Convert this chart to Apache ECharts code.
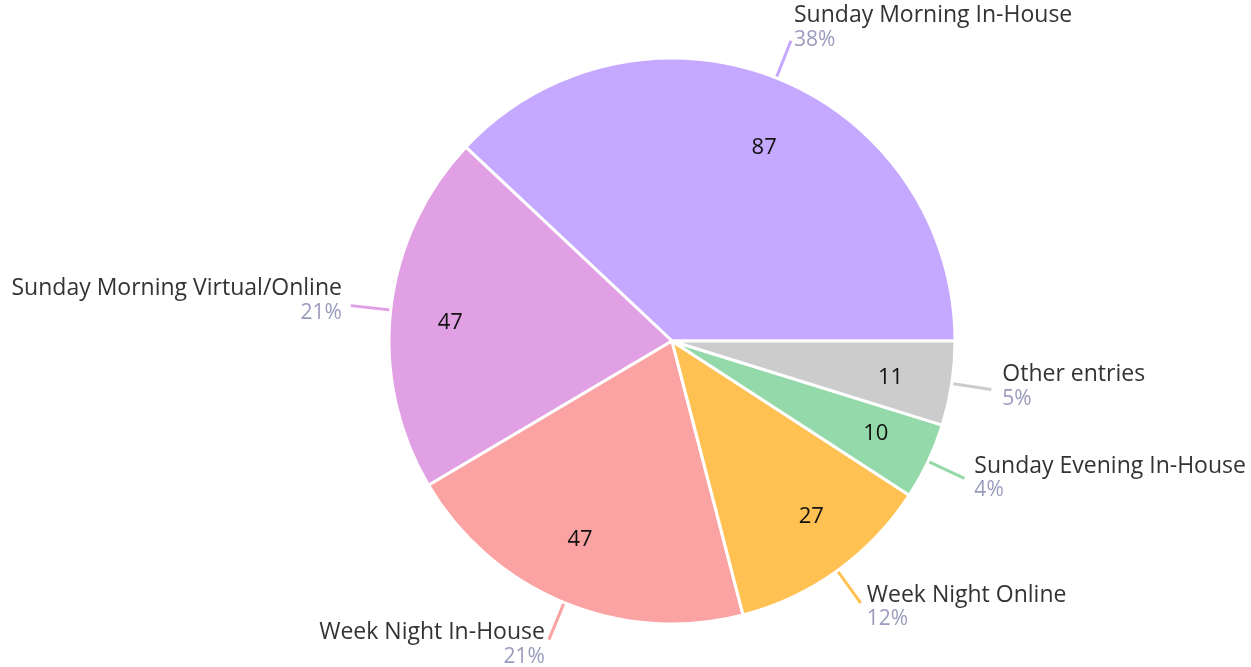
<!DOCTYPE html>
<html>
<head>
<meta charset="utf-8">
<script src="https://cdn.jsdelivr.net/npm/echarts@6/dist/echarts.min.js"></script>
<style>
  html, body { margin: 0; padding: 0; background: #fff; }
  #chart { width: 1251px; height: 667px; }
</style>
</head>
<body>
<div id="chart"></div>
<script>
// data
const categories = ['Sunday Morning In-House', 'Sunday Morning Virtual/Online', 'Week Night In-House',
                    'Week Night Online', 'Sunday Evening In-House', 'Other entries'];
const counts = [87, 47, 47, 27, 10, 11];
const colors = ['#c5a8ff', '#e2a0e4', '#fba3a3', '#ffc252', '#93d9a9', '#cccccc'];

const total = counts.reduce((a, b) => a + b, 0);
// small per-label nudges so the text sits where the reference has it
const labelPad = [[0, 0, 26, 0], [0, 0, 10, 0], [10, 0, 0, 0], [8, 0, 0, 0], 0, [0, 0, 6, 0]];
const labelGap = [3, 9, 4, 6, 10, 11];
const valueShift = [[10, 14], [0, 6], [-7, -7], [9, -5], [2, -2], [-2, 3]];

const pieData = categories.map((name, i) => ({
    name: name,
    value: counts[i],
    itemStyle: { color: colors[i] },
    label: { padding: labelPad[i], distanceToLabelLine: labelGap[i] },
    labelLine: { lineStyle: { color: colors[i] } }
}));

const chart = echarts.init(document.getElementById('chart'));
chart.setOption({
    backgroundColor: '#fff',
    animation: false,
    series: [{
        name: 'entries',
        type: 'pie',
        center: [672, 341],
        radius: [0, 283],
        startAngle: 0,
        clockwise: false,
        avoidLabelOverlap: false,
        itemStyle: {
            borderColor: '#fff',
            borderWidth: 3
        },
        label: {
            show: true,
            position: 'outside',
            overflow: 'none',
            fontFamily: 'Open Sans',
            formatter: function (p) {
                return '{n|' + p.name + '}\n{p|' + Math.round(p.value / total * 100) + '%}';
            },
            rich: {
                n: { fontSize: 23, color: '#333', fontFamily: 'Open Sans', lineHeight: 24 },
                p: { fontSize: 21, color: '#9b9bbd', fontFamily: 'Open Sans', lineHeight: 24 }
            }
        },
        labelLine: {
            show: true,
            length: 40,
            length2: 0,
            lineStyle: { width: 3 }
        },
        emphasis: { disabled: true },
        data: pieData
    }, {
        name: 'values',
        type: 'pie',
        center: [672, 341],
        radius: [157, 283],
        startAngle: 0,
        clockwise: false,
        silent: true,
        itemStyle: { color: 'rgba(0,0,0,0)', borderWidth: 0 },
        label: {
            show: true,
            position: 'inside',
            formatter: '{c}',
            color: '#111',
            fontSize: 22,
            fontFamily: 'Open Sans'
        },
        labelLine: { show: false },
        emphasis: { disabled: true },
        data: categories.map((name, i) => ({
            name: name,
            value: counts[i],
            label: { offset: valueShift[i] }
        }))
    }]
});
window.addEventListener('resize', function () { chart.resize(); });
</script>
</body>
</html>
